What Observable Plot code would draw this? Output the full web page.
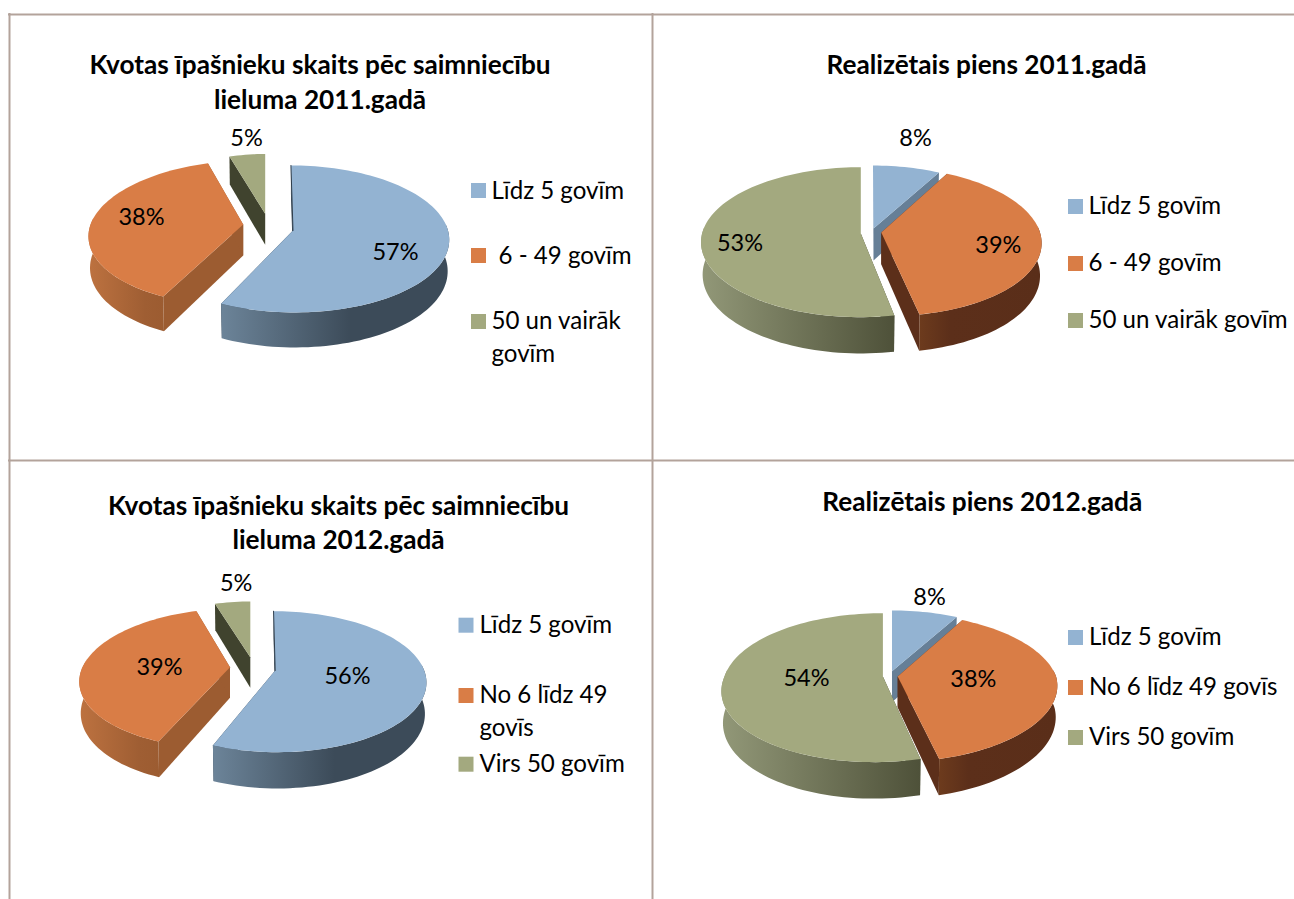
<!DOCTYPE html>
<html lang="lv">
<head>
<meta charset="utf-8">
<script src="https://cdn.jsdelivr.net/npm/d3@7"></script>
<script src="https://cdn.jsdelivr.net/npm/@observablehq/plot@0.6"></script>
<style>
html,body{margin:0;padding:0;background:#fff;overflow:hidden}
svg{display:block}
</style>
</head>
<body>
<div id="chart"></div>
<script>
// ---- data ----
const titles = [
  ["Kvotas īpašnieku skaits pēc saimniecību", "lieluma 2011.gadā"],
  ["Realizētais piens 2011.gadā"],
  ["Kvotas īpašnieku skaits pēc saimniecību", "lieluma 2012.gadā"],
  ["Realizētais piens 2012.gadā"]
];
const owners2011 = [57, 38, 5];
const milk2011 = [8, 39, 53];
const owners2012 = [56, 39, 5];
const milk2012 = [8, 38, 54];
const legendOwners2011 = [["Līdz 5 govīm"], ["6 - 49 govīm"], ["50 un vairāk", "govīm"]];
const legendMilk2011 = [["Līdz 5 govīm"], ["6 - 49 govīm"], ["50 un vairāk govīm"]];
const legendOwners2012 = [["Līdz 5 govīm"], ["No 6 līdz 49", "govīs"], ["Virs 50 govīm"]];
const legendMilk2012 = [["Līdz 5 govīm"], ["No 6 līdz 49 govīs"], ["Virs 50 govīm"]];

// ---- layout and style ----
const FONT = "Lato, Carlito, Calibri, sans-serif";
const TITLE_SIZE = 26.2, LABEL_SIZE = 23.5, LEGEND_SIZE = 24.1;
const BORDER = "#b3a39b";
const topColor = ["#93b3d2", "#d97d46", "#a3a97f"];
const panels = [
  { values: owners2011, legend: legendOwners2011, theme: "a",
    A: 155, B: 72.5, p: 0.115, D: 31, order: [2, 1, 0],
    slices: [
      {ax: 292.5, ay: 230, k: 1, kx: 1, hB: 20, hF: 15},
      {ax: 242.7, ay: 224, k: 0.985, kx: 1, hB: -73, hF: -64},
      {ax: 264.7, ay: 213.3, k: 0.92, kx: 0.9, hB: 0, hF: 0}],
    titleX: 319.5, titleY: [65, 100],
    labelPos: [[395, 252], [141, 217], [246, 138]],
    swatchX: 471, swatchY: [183, 248, 314],
    legendX: [491, 498, 491], legendY: [[191], [256], [321, 354]] },
  { values: milk2011, legend: legendMilk2011, theme: "b",
    A: 158.7, B: 74, p: 0.116, D: 32, order: [0, 1, 2],
    slices: [
      {ax: 873, ay: 228, k: 0.95, kx: 1, hB: 5, hF: 0},
      {ax: 880.8, ay: 232, k: 1, kx: 1, hB: 40, hF: 36},
      {ax: 860.3, ay: 233, k: 1, kx: 1, hB: 0, hF: 0}],
    titleX: 986, titleY: [65],
    labelPos: [[915, 138], [997.8, 245], [739.5, 243]],
    swatchX: 1068, swatchY: [199, 256, 313],
    legendX: [1088, 1088, 1088], legendY: [[206], [263], [320]] },
  { values: owners2012, legend: legendOwners2012, theme: "a",
    A: 149, B: 68.7, p: 0.159, D: 30.5, order: [2, 1, 0],
    slices: [
      {ax: 274.7, ay: 670, k: 1, kx: 1, hB: 12, hF: 12},
      {ax: 229.5, ay: 666.7, k: 0.99, kx: 1, hB: -45, hF: -45},
      {ax: 249.8, ay: 656.7, k: 0.94, kx: 0.94, hB: 0, hF: 0}],
    titleX: 338, titleY: [506, 540],
    labelPos: [[347, 676], [159, 666.7], [235.7, 582.7]],
    swatchX: 458.5, swatchY: [617.7, 688, 756.7],
    legendX: [479, 479, 479], legendY: [[625], [695, 728], [764]] },
  { values: milk2012, legend: legendMilk2012, theme: "b",
    A: 158.4, B: 72.8, p: 0.15, D: 31, order: [0, 1, 2],
    slices: [
      {ax: 891.5, ay: 670.7, k: 0.96, kx: 1, hB: 0, hF: 0},
      {ax: 897.2, ay: 676, k: 1, kx: 1, hB: 23, hF: -27},
      {ax: 882.4, ay: 676, k: 1, kx: 1, hB: 0, hF: -50}],
    titleX: 981.7, titleY: [502],
    labelPos: [[929, 596.7], [972.8, 679], [806, 678]],
    swatchX: 1068, swatchY: [630, 680, 730],
    legendX: [1088.5, 1088.5, 1088.5], legendY: [[637], [687], [737]] }
];
const SWATCH = 15;
const innerColor = { a: ["#2f3e4c", "#9c5c31", "#40432e"], b: ["#667f97", "#5c2f1a", "#40432e"] };
const sideFill = { a: ["url(#sideBlue)", "url(#sideOrangeA)", "#40432e"], b: ["#667f97", "url(#sideOrangeB)", "url(#sideGreen)"] };
const gradients = [
  ["sideBlue", [[0, "#6c8499"], [0.57, "#3c4b59"], [1, "#3c4b59"]]],
  ["sideOrangeA", [[0, "#bd7240"], [0.75, "#9f5e33"], [1, "#9c5c31"]]],
  ["sideOrangeB", [[0, "#6d3b1d"], [0.25, "#5c2f1a"], [1, "#5a2e19"]]],
  ["sideGreen", [[0, "#929878"], [1, "#4e5139"]]]
];

// ---- projection of the tilted pie ----
function rim(panel, s, deg, bottom) {
  const r = deg * Math.PI / 180, sn = Math.sin(r), cs = Math.cos(r);
  const w = 1 + panel.p * cs, h = cs > 0 ? s.hB : s.hF;
  return {
    x: s.ax + s.k * s.kx * panel.A * sn / w * (bottom ? 0.99 : 1) + h * (1 / w - 1),
    y: s.ay - s.k * panel.B * cs / w + (bottom ? panel.D / w : 0)
  };
}
function arc(panel, s, a0, a1, bottom) {
  const n = Math.max(2, Math.ceil(Math.abs(a1 - a0) / 2)), pts = [];
  for (let i = 0; i <= n; ++i) pts.push(rim(panel, s, a0 + (a1 - a0) * i / n, bottom));
  return pts;
}
function face(pts, fill) {
  return Plot.line(pts, {x: "x", y: "y", fill, stroke: "none", curve: "linear"});
}

const marks = [
  () => {
    const defs = d3.create("svg:defs");
    for (const [id, stops] of gradients) {
      const g = defs.append("linearGradient").attr("id", id);
      for (const [o, c] of stops) g.append("stop").attr("offset", o).attr("stop-color", c);
    }
    return defs.node();
  }
];

// table borders
marks.push(
  Plot.ruleY([14, 460], {x1: 8, x2: 1294, stroke: BORDER, strokeWidth: 2}),
  Plot.ruleX([9, 652], {y1: 13, y2: 899, stroke: BORDER, strokeWidth: 2})
);

for (const panel of panels) {
  const arcs = d3.pairs(d3.cumsum([0, ...panel.values]).map(v => v / d3.sum(panel.values) * 360));
  for (const i of panel.order) {
    const s = panel.slices[i], [a0, a1] = arcs[i];
    const apexTop = {x: s.ax, y: s.ay}, apexBot = {x: s.ax, y: s.ay + panel.D};
    // inner cut faces
    for (const a of [a0, a1]) {
      marks.push(face([apexTop, rim(panel, s, a, false), rim(panel, s, a, true), apexBot], innerColor[panel.theme][i]));
    }
    // outer wall (only its front part shows)
    const lo = Math.max(a0, 85), hi = Math.min(a1, 275);
    if (hi > lo) {
      marks.push(face([...arc(panel, s, lo, hi, false), ...arc(panel, s, hi, lo, true)], sideFill[panel.theme][i]));
    }
    // top surface
    marks.push(face([apexTop, ...arc(panel, s, a0, a1, false)], topColor[i]));
    // thin visible sliver of the cut face along the top edge of the big blue slice
    if (panel.theme === "a" && i === 0) {
      marks.push(Plot.line([rim(panel, s, a0, false), apexTop], {x: "x", y: "y", stroke: innerColor.a[0], strokeWidth: 1}));
    }
  }
  // value labels
  marks.push(Plot.text(panel.values, {
    x: (d, i) => panel.labelPos[i][0], y: (d, i) => panel.labelPos[i][1],
    text: d => d + "%", fontFamily: FONT, fontSize: LABEL_SIZE, fill: "#000", lineAnchor: "middle", textAnchor: "middle"
  }));
  // legend swatches
  marks.push(Plot.rect(panel.legend, {
    x1: () => panel.swatchX, x2: () => panel.swatchX + SWATCH,
    y1: (d, i) => panel.swatchY[i], y2: (d, i) => panel.swatchY[i] + SWATCH,
    fill: (d, i) => topColor[i], inset: 0
  }));
}
const titleRows = panels.flatMap((p, i) => titles[i].map((t, j) => ({t, x: p.titleX, y: p.titleY[j]})));
const legendRows = panels.flatMap(p => p.legend.flatMap((lines, i) => lines.map((t, j) => ({t, x: p.legendX[i], y: p.legendY[i][j]}))));
marks.push(
  Plot.text(titleRows, {x: "x", y: "y", text: "t", fontFamily: FONT, fontWeight: 700, fontSize: TITLE_SIZE, fill: "#000", lineAnchor: "middle", textAnchor: "middle"}),
  Plot.text(legendRows, {x: "x", y: "y", text: "t", fontFamily: FONT, fontSize: LEGEND_SIZE, fill: "#000", lineAnchor: "middle", textAnchor: "start"})
);

const chart = Plot.plot({
  width: 1294, height: 899, margin: 0,
  x: {domain: [0, 1294], range: [0, 1294], axis: null},
  y: {domain: [0, 899], range: [0, 899], axis: null},
  color: {type: "identity"},
  style: {background: "#fff", fontFamily: FONT},
  marks
});
document.getElementById("chart").append(chart);
</script>
</body>
</html>
